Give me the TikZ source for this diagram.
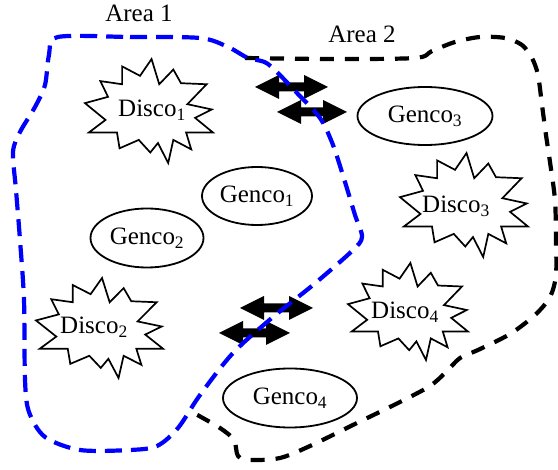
\documentclass[tikz,border=0pt]{standalone}
\usepackage{fontspec}
\setmainfont{Liberation Serif}
\usetikzlibrary{shapes.geometric}
\begin{document}
\begin{tikzpicture}[x=1pt,y=-1pt,
  lbl/.style={font=\fontsize{25}{28}\selectfont, inner sep=0pt},
  genco/.style={ellipse, draw, line width=1.8pt, inner sep=0pt, font=\fontsize{25}{28}\selectfont},
  starln/.style={draw=black, fill=white, line width=1.7pt, line join=miter},
  area1/.style={draw=blue, line width=4.2pt, dash pattern=on 17pt off 9pt},
  area2/.style={draw=black, line width=4.2pt, dash pattern=on 14pt off 11pt},
  pics/boom/.style={code={
    \draw[starln] (0.52,0.01) -- (0.58,0.25) -- (0.69,0.11) -- (0.75,0.24) -- (0.95,0.25)
      -- (0.80,0.44) -- (0.99,0.49) -- (0.86,0.57) -- (1.0,0.71) -- (0.79,0.71)
      -- (0.83,0.87) -- (0.69,0.78) -- (0.65,1.0) -- (0.57,0.81) -- (0.51,0.90)
      -- (0.42,0.78) -- (0.27,0.86) -- (0.25,0.71) -- (0.03,0.71) -- (0.16,0.59)
      -- (0.0,0.43) -- (0.18,0.37) -- (0.12,0.22) -- (0.29,0.25) -- (0.29,0.08)
      -- (0.43,0.17) -- cycle;
  }},
  pics/dbl/.style={code={
    \pgfmathsetmacro\dblhalf{#1/2}
    \fill[black] (-\dblhalf,0) -- (-\dblhalf+24,-12) -- (-\dblhalf+24,-4.5) -- (\dblhalf-24,-4.5)
      -- (\dblhalf-24,-12) -- (\dblhalf,0) -- (\dblhalf-24,12) -- (\dblhalf-24,4.5)
      -- (-\dblhalf+24,4.5) -- (-\dblhalf+24,12) -- cycle;
  }}]
\useasboundingbox[fill=white] (0,0) rectangle (558,470);

% area labels
\node[lbl, anchor=base] (area1lbl) at (139,22) {Area 1};
\node[lbl, anchor=base] (area2lbl) at (362,43) {Area 2};

% discos
\pic[xscale=128, yscale=105] at (85,58) {boom};
\node[lbl] (d1) at (152,110) {Disco\textsubscript{1}};
\pic[xscale=127, yscale=101] at (36,277) {boom};
\node[lbl] (d2) at (94,327) {Disco\textsubscript{2}};
\pic[xscale=128, yscale=105] at (400,152) {boom};
\node[lbl] (d3) at (456,206) {Disco\textsubscript{3}};
\pic[xscale=120, yscale=98] at (348,262) {boom};
\node[lbl] (d4) at (405,312) {Disco\textsubscript{4}};

% gencos
\node[genco, minimum width=110pt, minimum height=58pt] (g1) at (257,196) {Genco\textsubscript{1}};
\node[genco, minimum width=113pt, minimum height=59pt] (g2) at (147,238) {Genco\textsubscript{2}};
\node[genco, minimum width=135pt, minimum height=58pt] (g3) at (425,116) {Genco\textsubscript{3}};
\node[genco, minimum width=134pt, minimum height=59pt] (g4) at (290,398) {Genco\textsubscript{4}};

% tie-line arrows
\coordinate (t1) at (291.5,87);
\coordinate (t2) at (312,112);
\coordinate (t3) at (276.5,308);
\coordinate (t4) at (254.5,333);
\pic at (t1) {dbl=73};
\pic at (t2) {dbl=70};
\pic at (t3) {dbl=73};
\pic at (t4) {dbl=71};

% area 2 boundary
\draw[area2] plot[smooth, tension=0.5] coordinates {(245,58) (330,59) (415,58) (432,51) (455,42) (480,37) (505,38) (522,45) (532,58) (538,75) (542,105) (546,135) (550,162) (555,200) (556,240) (556,275) (550,297) (535,315) (510,334) (478,350) (460,358) (446,372) (430,386) (400,402) (357,423) (310,446) (280,458) (250,460) (238,456) (234,440) (220,428) (192,412)};

% area 1 boundary
\draw[area1] plot[smooth cycle, tension=0.5] coordinates {(58,37) (130,37) (200,38) (228,47) (248,58) (268,64) (296,92) (320,118) (333,145) (345,182) (355,215) (362,237) (352,251) (313,285) (273,317) (233,353) (200,395) (178,428) (157,446) (130,450) (80,450) (45,437) (29,412) (25,380) (24,300) (20,240) (16,190) (13,152) (20,132) (35,107) (45,85) (49,55)};
\end{tikzpicture}
\end{document}
